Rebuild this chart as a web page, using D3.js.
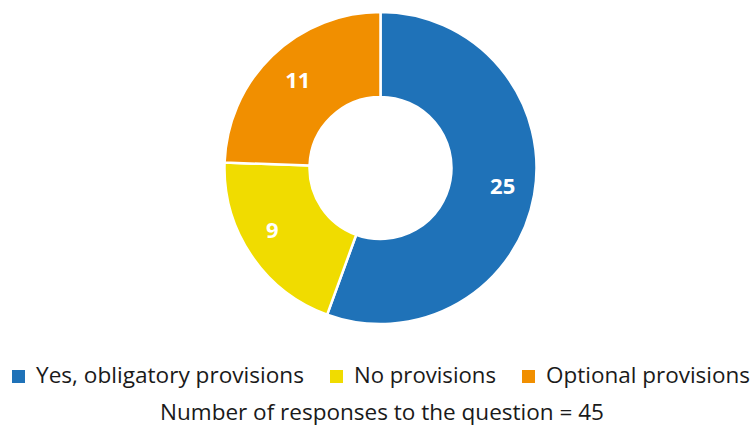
<!DOCTYPE html>
<html><head><meta charset="utf-8">
<script src="https://cdn.jsdelivr.net/npm/d3@7"></script>
<style>body{margin:0;background:#fff}svg{display:block}</style>
</head><body>
<svg id="c" width="755" height="428"></svg>
<script>
const categories = ["Yes, obligatory provisions", "No provisions", "Optional provisions"];
const values = [25, 9, 11];
const colors = ["#1f72b8", "#f0dc00", "#f18f00"];
const title = "Number of responses to the question = 45";

const svg = d3.select("#c");
const font = "'Open Sans', 'Noto Sans', sans-serif";
const cx = 380.5, cy = 168, R = 156, r = 71;

const pie = d3.pie().sort(null).value(d => d)(values);
const arc = d3.arc().innerRadius(r).outerRadius(R);
const g = svg.append("g").attr("transform", `translate(${cx},${cy})`);
g.selectAll("path").data(pie).join("path")
  .attr("d", arc).attr("fill", (d, i) => colors[i])
  .attr("stroke", "#fff").attr("stroke-width", 2.5);

const labelArc = d3.arc().innerRadius(122).outerRadius(122);
const labelOff = [[2, -3], [-7, -6], [2, 0]];
g.selectAll("text").data(pie).join("text")
  .attr("x", (d, i) => labelArc.centroid(d)[0] + labelOff[i][0])
  .attr("y", (d, i) => labelArc.centroid(d)[1] + labelOff[i][1])
  .attr("dy", "0.36em").attr("text-anchor", "middle")
  .attr("font-family", font).attr("font-weight", "bold").attr("font-size", 22)
  .attr("fill", "#fff").text(d => d.value);

// legend
const legX = [12, 330, 522];
const legW = [268, 142, 204];
const lg = svg.append("g");
categories.forEach((c, i) => {
  lg.append("rect").attr("x", legX[i]).attr("y", 370).attr("width", 13).attr("height", 13).attr("fill", colors[i]);
  lg.append("text").attr("x", legX[i] + 24).attr("y", 383)
    .attr("font-family", font).attr("font-size", 22).attr("fill", "#1a1a1a")
    .attr("textLength", legW[i]).attr("lengthAdjust", "spacingAndGlyphs")
    .text(c);
});
svg.append("text").attr("x", 382).attr("y", 420).attr("text-anchor", "middle")
  .attr("font-family", font).attr("font-size", 22).attr("fill", "#1a1a1a")
  .attr("textLength", 444).attr("lengthAdjust", "spacingAndGlyphs")
  .text(title);
</script>
</body></html>
